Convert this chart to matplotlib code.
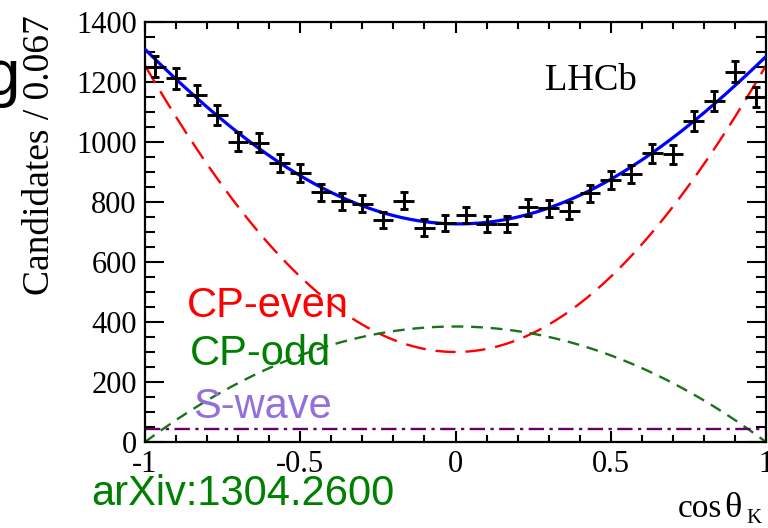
import numpy as np
import matplotlib
matplotlib.use("Agg")
import matplotlib.pyplot as plt
from matplotlib.ticker import MultipleLocator

# Binned candidate counts in cos(theta_K), 30 bins over [-1, 1]
bin_edges = np.linspace(-1.0, 1.0, 31)
counts = [1251, 1212, 1157, 1090, 1001, 998, 929, 896, 832, 803,
          795, 740, 804, 715, 731, 757, 727, 727, 782, 779,
          771, 829, 873, 893, 962, 959, 1070, 1136, 1234, 1151]

# Fit component parameters (polynomial coefficients in cos(theta_K))
cp_even_coeffs = [300.0, 0.0, 1020.0, 0.0, -65.0]   # c0 + c2 x^2 + c4 x^4
cp_odd_amp = 385.0                                   # A (1 - x^2)
s_wave_level = 42.0                                  # flat
interference_slope = -12.0                           # linear term in total

y_ticks = [0, 200, 400, 600, 800, 1000, 1200, 1400]
x_ticks = [-1, -0.5, 0, 0.5, 1]
x_ticklabels = ["-1", "-0.5", "0", "0.5", "1"]

serif = ["Liberation Serif", "DejaVu Serif"]
sans = ["Liberation Sans", "DejaVu Sans"]

fig = plt.figure(figsize=(7.68, 5.28), dpi=100)
ax = fig.add_axes([145 / 768, 86 / 528, 621 / 768, 420 / 528])

centers = 0.5 * (bin_edges[:-1] + bin_edges[1:])
half_w = 0.5 * (bin_edges[1] - bin_edges[0])
counts_arr = np.array(counts, dtype=float)
errs = np.sqrt(counts_arr)

xs = np.linspace(-1, 1, 400)
cp_even = np.polyval(cp_even_coeffs[::-1], xs)
cp_odd = cp_odd_amp * (1 - xs ** 2)
s_wave = np.full_like(xs, s_wave_level)
total = cp_even + cp_odd + s_wave + interference_slope * xs

ax.plot(xs, cp_even, color="#ff0000", lw=1.7, dashes=(8.5, 4.2), zorder=2)
ax.plot(xs, cp_odd, color="#1a731a", lw=1.7, dashes=(5, 3.3), zorder=2)
ax.plot(xs, s_wave, color="#660066", lw=1.7, dashes=(6.5, 2.3, 1.4, 2.3), zorder=2)
ax.plot(xs, total, color="#0000ff", lw=2.3, zorder=3)

# data points: horizontal bin-width bars and vertical stat. errors with caps
ax.errorbar(centers, counts_arr, xerr=half_w, fmt="none", ecolor="black",
            elinewidth=2.1, capsize=0, zorder=4)
ax.errorbar(centers, counts_arr, yerr=errs, fmt="none", ecolor="black",
            elinewidth=2.1, capsize=2.8, capthick=2.1, zorder=4)

ax.set_xlim(-1, 1)
ax.set_ylim(0, 1400)
ax.set_yticks(y_ticks)
ax.set_xticks(x_ticks)
ax.set_xticklabels(x_ticklabels)
ax.yaxis.set_minor_locator(MultipleLocator(50))
ax.xaxis.set_minor_locator(MultipleLocator(0.1))

for s in ax.spines.values():
    s.set_linewidth(1.6)
ax.tick_params(axis="both", which="both", direction="in", top=True, right=True,
               width=1.5, colors="black")
ax.tick_params(axis="y", which="major", length=14, pad=6)
ax.tick_params(axis="y", which="minor", length=7)
ax.tick_params(axis="x", which="major", length=8, pad=6)
ax.tick_params(axis="x", which="minor", length=5)
for lab in ax.get_xticklabels() + ax.get_yticklabels():
    lab.set_fontfamily(serif)
    lab.set_fontsize(22)

fig.text(545 / 768, (528 - 90) / 528, "LHCb", family=serif, fontsize=26.5,
         ha="left", va="baseline")

fig.text(40 / 768, (528 - 155) / 528, "Candidates / 0.067", family=serif,
         fontsize=27, rotation=90, ha="center", va="center")

# x-axis title: cos, upright theta, subscript K
fig.text(678 / 768, (528 - 517) / 528, "cos", family=serif,
         fontsize=24, ha="left", va="baseline")
fig.text(724 / 768, (528 - 517) / 528, "\u03b8", family=serif,
         fontsize=26, ha="left", va="baseline")
fig.text(746 / 768, (528 - 523) / 528, "K", family=serif,
         fontsize=15, ha="left", va="baseline")

fig.text(187 / 768, (528 - 317) / 528, "CP-even", family=sans, fontsize=30,
         color="#ff0000", ha="left", va="baseline")
fig.text(190 / 768, (528 - 365) / 528, "CP-odd", family=sans, fontsize=30,
         color="#008000", ha="left", va="baseline")
fig.text(193 / 768, (528 - 418) / 528, "S-wave", family=sans, fontsize=30,
         color="#9370db", ha="left", va="baseline")
fig.text(91 / 768, (528 - 505) / 528, "arXiv:1304.2600", family=sans,
         fontsize=30, color="#008000", ha="left", va="baseline")

fig.text(20 / 768, (528 - 95) / 528, "g", family=sans, fontsize=46,
         ha="right", va="baseline")

fig.savefig("out.png", dpi=100)
